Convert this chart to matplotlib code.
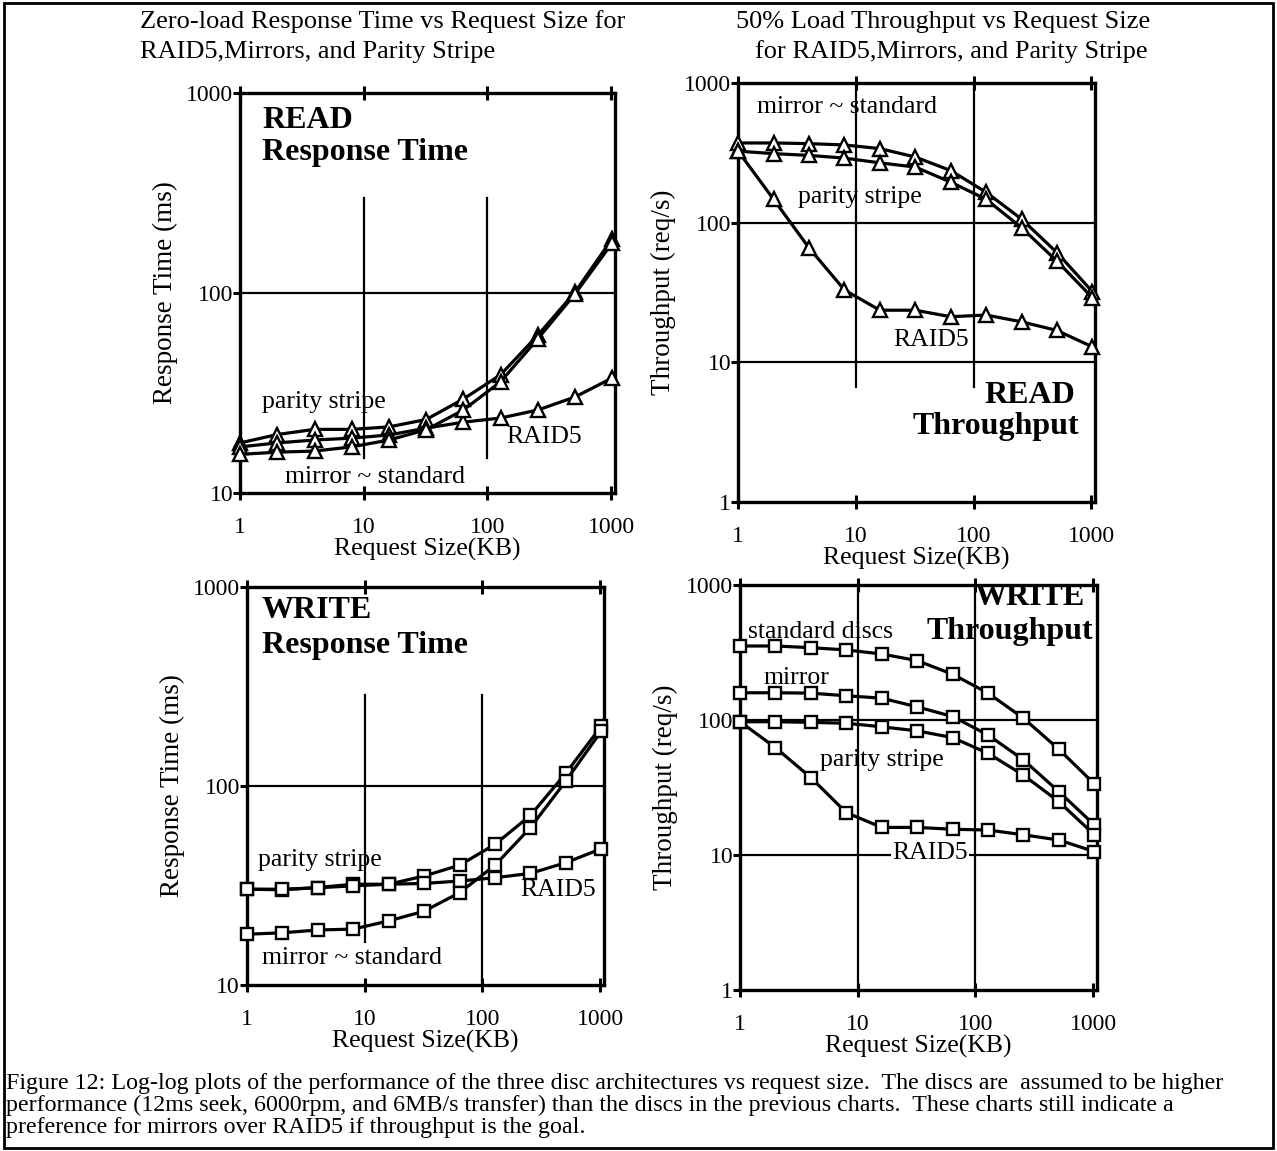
"""Log-log plots of disc architecture performance vs request size (Figure 12)."""

import matplotlib

matplotlib.use("Agg")
import matplotlib.pyplot as plt
import matplotlib.patches as mpatches

plt.rcParams["font.family"] = ["Liberation Serif", "DejaVu Serif"]

# Request sizes (KB)
sizes = [1, 2, 4, 8, 16, 32, 64, 128, 256, 512, 1024]

# READ response time (ms)
read_rt_parity = [17.8, 19.6, 20.8, 20.8, 21.4, 23.3, 29.5, 39.0, 61.5, 101, 187]
read_rt_raid5 = [17.0, 17.8, 18.4, 18.8, 19.5, 21.1, 22.6, 23.7, 26.0, 30.2, 37.6]
read_rt_mirror = [15.6, 16.0, 16.2, 17.0, 18.4, 20.7, 26.0, 36.0, 59.0, 99, 178]

# READ throughput (req/s)
read_tp_mirror = [372, 372, 368, 360, 339, 295, 236, 165, 106, 61, 32]
read_tp_parity = [325, 312, 303, 290, 268, 250, 195, 147, 92, 53, 29]
read_tp_raid5 = [325, 147, 66, 33, 23.6, 23.6, 21.2, 21.8, 19.5, 16.9, 12.9]

# WRITE response time (ms)
write_rt_parity = [30.3, 30.1, 30.9, 32.1, 32.1, 35.3, 40.0, 50.9, 71.2, 116, 200]
write_rt_raid5 = [30.3, 30.3, 30.8, 31.5, 32.1, 32.4, 33.3, 34.6, 36.4, 41.2, 48.4]
write_rt_mirror = [18.0, 18.3, 18.9, 19.1, 21.0, 23.5, 29.1, 40.0, 61.8, 106, 189]

# WRITE throughput (req/s)
write_tp_standard = [353, 353, 343, 330, 308, 275, 218, 158, 103, 60.6, 33.6]
write_tp_mirror = [159, 159, 158, 151, 145, 125, 106, 77.4, 50.6, 29.4, 16.7]
write_tp_parity = [97, 97, 96, 94.5, 89, 83, 74, 56.6, 39, 24.8, 14.1]
write_tp_raid5 = [97, 62.4, 37.4, 20.6, 16.0, 16.0, 15.5, 15.3, 14.1, 12.9, 10.6]

x_ticks = [1, 10, 100, 1000]
x_ticklabels = ["1", "10", "100", "1000"]

TICK = 17
TXT = 18.5
LABEL = 18.5
BOLD = 23


def style_axis(ax, ylim, yticks, ylabel):
    ax.set_xscale("log")
    ax.set_yscale("log")
    ax.set_xlim(1, 1080)
    ax.set_ylim(*ylim)
    ax.set_xticks(x_ticks)
    ax.set_xticklabels(x_ticklabels)
    ax.set_yticks(yticks)
    ax.set_yticklabels([str(t) for t in yticks])
    ax.minorticks_off()
    ax.tick_params(axis="x", which="major", direction="inout", length=10,
                   width=2.2, labelsize=TICK, pad=12, top=True)
    ax.tick_params(axis="y", which="major", direction="out", length=5,
                   width=2.2, labelsize=TICK, pad=0)
    ax.set_xlabel("Request Size(KB)", fontsize=LABEL, labelpad=0)
    ax.set_ylabel(ylabel, fontsize=19.5, labelpad=6)
    for s in ax.spines.values():
        s.set_linewidth(2.4)


def plot_series(ax, y, marker, ms):
    ax.plot(sizes, y, color="black", lw=2.3, marker=marker, ms=ms,
            mfc="white", mec="black", mew=1.7, clip_on=False, zorder=3)


def note(ax, x, y, s, bold=False, ha="left", **kw):
    ax.text(x, y, s, transform=ax.transAxes, fontsize=BOLD if bold else TXT,
            fontweight="bold" if bold else "normal", va="center", ha=ha, **kw)


fig = plt.figure(figsize=(12.77, 11.51), dpi=100)

# outer frame
fig.patches.append(mpatches.Rectangle((0.003, 0.003), 0.994, 0.994,
                                      transform=fig.transFigure, fill=False,
                                      lw=2, ec="black"))

# READ response time
ax1 = fig.add_axes([0.188, 0.5717, 0.2937, 0.3475])
style_axis(ax1, (10, 1000), [10, 100, 1000], "Response Time (ms)")
ax1.axhline(100, color="black", lw=1.6, zorder=1)
for xv in [10, 100]:
    ax1.axvline(xv, ymin=0.0875, ymax=0.7375, color="black", lw=1.6, zorder=1)
plot_series(ax1, read_rt_parity, "^", 10)
plot_series(ax1, read_rt_raid5, "^", 10)
plot_series(ax1, read_rt_mirror, "^", 10)
note(ax1, 0.059, 0.93, "READ", bold=True)
note(ax1, 0.059, 0.85, "Response Time", bold=True)
note(ax1, 0.059, 0.2275, "parity stripe")
note(ax1, 0.12, 0.04, "mirror ~ standard")
note(ax1, 0.709, 0.14, "RAID5")

# READ throughput
ax2 = fig.add_axes([0.578, 0.5639, 0.2796, 0.364])
style_axis(ax2, (1, 1000), [1, 10, 100, 1000], "Throughput (req/s)")
for yv in [10, 100]:
    ax2.axhline(yv, color="black", lw=1.6, zorder=1)
for xv in [10, 100]:
    ax2.axvline(xv, ymin=0.274, ymax=1, color="black", lw=1.6, zorder=1)
plot_series(ax2, read_tp_mirror, "^", 10)
plot_series(ax2, read_tp_parity, "^", 10)
plot_series(ax2, read_tp_raid5, "^", 10)
note(ax2, 0.053, 0.943, "mirror ~ standard")
note(ax2, 0.168, 0.728, "parity stripe")
note(ax2, 0.434, 0.387, "RAID5")
note(ax2, 0.944, 0.255, "READ", bold=True, ha="right")
note(ax2, 0.954, 0.179, "Throughput", bold=True, ha="right")

# WRITE response time
ax3 = fig.add_axes([0.1934, 0.1442, 0.2796, 0.3458])
style_axis(ax3, (10, 1000), [10, 100, 1000], "Response Time (ms)")
ax3.axhline(100, color="black", lw=1.6, zorder=1)
ax3.axvline(10, ymin=0.108, ymax=0.729, color="black", lw=1.6, zorder=1)
ax3.axvline(100, ymin=0, ymax=0.729, color="black", lw=1.6, zorder=1)
plot_series(ax3, write_rt_parity, "s", 9)
plot_series(ax3, write_rt_raid5, "s", 9)
plot_series(ax3, write_rt_mirror, "s", 9)
note(ax3, 0.042, 0.942, "WRITE", bold=True)
note(ax3, 0.042, 0.854, "Response Time", bold=True)
note(ax3, 0.031, 0.314, "parity stripe")
note(ax3, 0.042, 0.068, "mirror ~ standard")
note(ax3, 0.765, 0.239, "RAID5")

# WRITE throughput
ax4 = fig.add_axes([0.5795, 0.1399, 0.2796, 0.3519])
style_axis(ax4, (1, 1000), [1, 10, 100, 1000], "Throughput (req/s)")
for yv in [10, 100]:
    ax4.axhline(yv, color="black", lw=1.6, zorder=1)
for xv in [10, 100]:
    ax4.axvline(xv, color="black", lw=1.6, zorder=1)
plot_series(ax4, write_tp_standard, "s", 9)
plot_series(ax4, write_tp_mirror, "s", 9)
plot_series(ax4, write_tp_parity, "s", 9)
plot_series(ax4, write_tp_raid5, "s", 9)
note(ax4, 0.966, 0.968, "WRITE", bold=True, ha="right")
note(ax4, 0.989, 0.884, "Throughput", bold=True, ha="right")
note(ax4, 0.022, 0.884, "standard discs")
note(ax4, 0.067, 0.77, "mirror")
note(ax4, 0.224, 0.568, "parity stripe")
note(ax4, 0.426, 0.338, "RAID5", zorder=2,
     bbox=dict(boxstyle="square,pad=0.05", fc="white", ec="none"))

# panel titles
fig.text(140 / 1277, 1 - 22 / 1151, "Zero-load Response Time vs Request Size for",
         fontsize=19, va="center", ha="left")
fig.text(140 / 1277, 1 - 52 / 1151, "RAID5,Mirrors, and Parity Stripe",
         fontsize=19, va="center", ha="left")
fig.text(943 / 1277, 1 - 22 / 1151, "50% Load Throughput vs Request Size",
         fontsize=19, va="center", ha="center")
fig.text(951 / 1277, 1 - 52 / 1151, "for RAID5,Mirrors, and Parity Stripe",
         fontsize=19, va="center", ha="center")

# caption
caption = [
    "Figure 12: Log-log plots of the performance of the three disc architectures vs request size.  The discs are  assumed to be higher",
    "performance (12ms seek, 6000rpm, and 6MB/s transfer) than the discs in the previous charts.  These charts still indicate a",
    "preference for mirrors over RAID5 if throughput is the goal.",
]
for i, line in enumerate(caption):
    fig.text(6 / 1277, 1 - (1083 + 22 * i) / 1151, line, fontsize=17.3,
             va="center", ha="left")

fig.savefig("out.png", dpi=100)
plt.close(fig)
